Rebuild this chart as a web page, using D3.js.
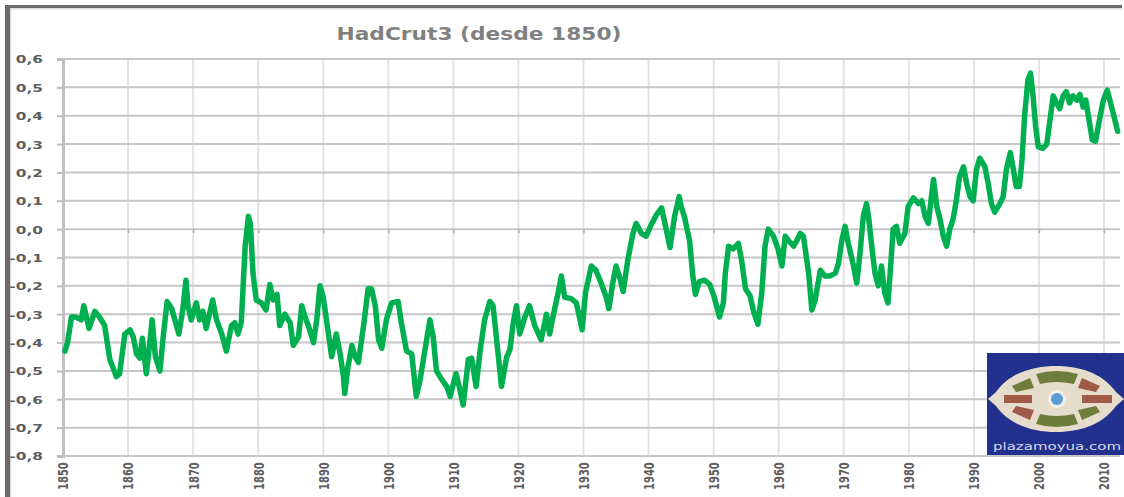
<!DOCTYPE html>
<html>
<head>
<meta charset="utf-8">
<script src="https://cdn.jsdelivr.net/npm/d3@7"></script>
<style>
  html, body { margin: 0; padding: 0; background: #ffffff; }
  svg { display: block; }
</style>
</head>
<body>
<script>
// ---- Data ----
const chartTitle = "HadCrut3 (desde 1850)";
const yTickValues = [-0.8, -0.7, -0.6, -0.5, -0.4, -0.3, -0.2, -0.1, 0.0, 0.1, 0.2, 0.3, 0.4, 0.5, 0.6];
const xTickYears = [1850, 1860, 1870, 1880, 1890, 1900, 1910, 1920, 1930, 1940, 1950, 1960, 1970, 1980, 1990, 2000, 2010];
const logoText = "plazamoyua.com";

const years = [
  1850.3, 1850.7, 1851.3, 1852.0, 1852.8, 1853.2, 1854.0, 1854.9, 1855.6, 1856.4,
  1857.2, 1858.2, 1858.7, 1859.5, 1860.3, 1860.8, 1861.3, 1861.8, 1862.2, 1862.8,
  1863.3, 1863.7, 1864.2, 1864.9, 1865.4, 1866.0, 1866.7, 1867.2, 1867.8, 1868.4,
  1868.9, 1869.2, 1869.7, 1870.5, 1871.0, 1871.5, 1872.0, 1873.0, 1873.6, 1874.4,
  1875.1, 1875.9, 1876.4, 1876.9, 1877.4, 1878.0, 1878.5, 1878.8, 1879.2, 1879.7,
  1880.5, 1881.2, 1881.8, 1882.3, 1882.9, 1883.3, 1884.1, 1884.9, 1885.4, 1886.2,
  1886.7, 1887.2, 1887.7, 1888.5, 1889.0, 1889.5, 1890.0, 1890.8, 1891.3, 1892.0,
  1892.6, 1893.1, 1893.3, 1893.8, 1894.4, 1894.9, 1895.4, 1896.2, 1896.9, 1897.4,
  1898.0, 1898.5, 1899.0, 1899.7, 1900.5, 1901.5, 1902.0, 1902.8, 1903.6, 1904.3,
  1904.9, 1905.6, 1906.4, 1906.9, 1907.4, 1908.2, 1909.0, 1909.5, 1910.4, 1910.9,
  1911.5, 1912.3, 1912.8, 1913.5, 1914.1, 1914.8, 1915.6, 1916.1, 1916.6, 1917.4,
  1918.2, 1918.7, 1919.2, 1919.7, 1920.2, 1921.0, 1921.7, 1922.5, 1923.5, 1924.3,
  1924.8, 1925.3, 1926.1, 1926.6, 1927.1, 1928.1, 1928.9, 1929.8, 1930.3, 1931.2,
  1931.9, 1932.7, 1933.5, 1933.9, 1934.5, 1935.0, 1935.5, 1936.1, 1936.8, 1937.6,
  1938.1, 1938.9, 1939.6, 1940.4, 1941.2, 1942.0, 1942.7, 1943.3, 1944.0, 1944.7,
  1945.0, 1945.5, 1946.3, 1946.8, 1947.2, 1947.8, 1948.6, 1949.4, 1950.1, 1950.9,
  1951.5, 1951.8, 1952.3, 1953.0, 1953.8, 1954.3, 1954.9, 1955.6, 1956.2, 1956.8,
  1957.4, 1957.9, 1958.4, 1959.2, 1959.9, 1960.5, 1961.0, 1961.5, 1962.3, 1962.8,
  1963.3, 1963.8, 1964.6, 1965.1, 1965.6, 1966.4, 1967.1, 1967.9, 1968.7, 1969.2,
  1969.7, 1970.2, 1970.7, 1971.5, 1972.0, 1972.5, 1973.0, 1973.5, 1973.8, 1974.3,
  1974.8, 1975.3, 1975.8, 1976.3, 1976.8, 1977.1, 1977.6, 1978.1, 1978.6, 1979.4,
  1979.9, 1980.7, 1981.5, 1982.0, 1982.5, 1983.0, 1983.4, 1983.8, 1984.3, 1984.8,
  1985.3, 1985.8, 1986.3, 1986.8, 1987.3, 1987.8, 1988.4, 1988.9, 1989.4, 1989.9,
  1990.4, 1990.9, 1991.7, 1992.2, 1992.7, 1993.2, 1994.0, 1994.5, 1995.0, 1995.6,
  1996.0, 1996.5, 1997.0, 1997.4, 1997.8, 1998.3, 1998.7, 1999.1, 1999.5, 1999.9,
  2000.6, 2001.2, 2001.7, 2002.2, 2002.7, 2003.2, 2003.7, 2004.2, 2004.7, 2005.2,
  2005.8, 2006.3, 2006.8, 2007.2, 2007.7, 2008.2, 2008.7, 2009.3, 2009.9, 2010.5,
  2010.9, 2011.4, 2012.1
];

const anomaly = [
  -0.43, -0.40, -0.31, -0.31, -0.32, -0.27, -0.35, -0.29, -0.31, -0.34,
  -0.46, -0.52, -0.51, -0.37, -0.355, -0.38, -0.44, -0.455, -0.385, -0.51,
  -0.41, -0.32, -0.45, -0.50, -0.38, -0.255, -0.28, -0.32, -0.37, -0.285,
  -0.18, -0.27, -0.32, -0.26, -0.32, -0.29, -0.35, -0.25, -0.32, -0.37,
  -0.43, -0.34, -0.33, -0.37, -0.33, -0.06, 0.045, 0.02, -0.155, -0.25,
  -0.26, -0.285, -0.195, -0.25, -0.23, -0.34, -0.30, -0.33, -0.41, -0.38,
  -0.27, -0.31, -0.34, -0.40, -0.32, -0.20, -0.24, -0.37, -0.45, -0.37,
  -0.44, -0.52, -0.58, -0.485, -0.41, -0.45, -0.47, -0.34, -0.21, -0.21,
  -0.27, -0.39, -0.42, -0.32, -0.26, -0.255, -0.33, -0.43, -0.44, -0.59,
  -0.53, -0.43, -0.32, -0.38, -0.50, -0.53, -0.555, -0.59, -0.51, -0.555,
  -0.62, -0.46, -0.455, -0.555, -0.43, -0.32, -0.255, -0.27, -0.38, -0.555,
  -0.45, -0.425, -0.33, -0.27, -0.37, -0.31, -0.27, -0.34, -0.39, -0.30,
  -0.37, -0.31, -0.225, -0.165, -0.24, -0.245, -0.26, -0.355, -0.225, -0.13,
  -0.145, -0.19, -0.24, -0.28, -0.19, -0.13, -0.165, -0.22, -0.11, -0.015,
  0.02, -0.015, -0.025, 0.015, 0.05, 0.075, 0.0, -0.065, 0.045, 0.115,
  0.08, 0.045, -0.04, -0.165, -0.23, -0.185, -0.18, -0.195, -0.24, -0.31,
  -0.26, -0.155, -0.06, -0.07, -0.05, -0.11, -0.21, -0.235, -0.295, -0.335,
  -0.225, -0.06, 0.0, -0.025, -0.07, -0.13, -0.025, -0.04, -0.06, -0.04,
  -0.015, -0.025, -0.155, -0.285, -0.25, -0.145, -0.165, -0.165, -0.155, -0.12,
  -0.04, 0.01, -0.05, -0.13, -0.19, -0.085, 0.045, 0.09, 0.045, -0.06,
  -0.155, -0.20, -0.13, -0.225, -0.26, -0.165, 0.0, 0.01, -0.05, -0.015,
  0.08, 0.11, 0.09, 0.10, 0.045, 0.02, 0.10, 0.175, 0.08, 0.035,
  -0.025, -0.06, 0.0, 0.035, 0.10, 0.185, 0.22, 0.16, 0.115, 0.10,
  0.21, 0.25, 0.22, 0.16, 0.09, 0.06, 0.09, 0.115, 0.21, 0.27,
  0.22, 0.15, 0.15, 0.245, 0.40, 0.525, 0.55, 0.47, 0.36, 0.29,
  0.285, 0.30, 0.385, 0.47, 0.445, 0.425, 0.47, 0.485, 0.445, 0.47,
  0.455, 0.475, 0.43, 0.455, 0.385, 0.315, 0.31, 0.385, 0.455, 0.49,
  0.455, 0.41, 0.345
];

// ---- Layout ----
const W = 1124, H = 497;
const plotLeft = 63, plotRight = 1120, plotTop = 59, plotBottom = 456;
const stretch = 1.4; // the reference is horizontally stretched

const svg = d3.select("body").append("svg")
  .attr("width", W).attr("height", H)
  .style("font-family", "'DejaVu Sans', Verdana, sans-serif");

svg.append("rect").attr("width", W).attr("height", H).attr("fill", "#ffffff");

const x = d3.scaleLinear().domain([1850, 2010]).range([63, 1104]);
const y = d3.scaleLinear().domain([-0.8, 0.6]).range([plotBottom, plotTop]);

// Frame
svg.append("line").attr("x1", 5).attr("x2", 1122).attr("y1", 6.5).attr("y2", 6.5)
  .attr("stroke", "#6f6a6a").attr("stroke-width", 3);
svg.append("line").attr("x1", 7.5).attr("x2", 7.5).attr("y1", 5).attr("y2", H)
  .attr("stroke", "#6f6a6a").attr("stroke-width", 5);
svg.append("line").attr("x1", 10).attr("x2", 1122).attr("y1", 8.8).attr("y2", 8.8)
  .attr("stroke", "#d6d6d6").attr("stroke-width", 1.2);
svg.append("line").attr("x1", 10.6).attr("x2", 10.6).attr("y1", 8).attr("y2", H)
  .attr("stroke", "#d6d6d6").attr("stroke-width", 1.2);

// Vertical gridlines
svg.append("g").selectAll("line").data(xTickYears.slice(1)).join("line")
  .attr("x1", d => x(d)).attr("x2", d => x(d))
  .attr("y1", plotTop).attr("y2", plotBottom)
  .attr("stroke", "#e3e3e3").attr("stroke-width", 2);

// Horizontal gridlines
svg.append("g").selectAll("line").data(yTickValues).join("line")
  .attr("x1", plotLeft).attr("x2", plotRight)
  .attr("y1", d => y(d)).attr("y2", d => y(d))
  .attr("stroke", "#c6c6c6").attr("stroke-width", 2);

// Y axis
const fmt = d => d3.format(".1f")(d).replace(".", ",").replace("−", "-");
const yAxis = svg.append("g").attr("transform", `translate(${plotLeft},0)`)
  .call(d3.axisLeft(y).tickValues(yTickValues).tickSize(6).tickFormat(fmt));
yAxis.select(".domain").attr("stroke", "#c0c0c0").attr("stroke-width", 3);
yAxis.selectAll(".tick line").attr("stroke", "#bdbdbd").attr("stroke-width", 2);
yAxis.selectAll(".tick text")
  .attr("x", 0).attr("dy", "0.36em")
  .attr("transform", `translate(-20,0) scale(${stretch},1)`)
  .attr("text-anchor", "end")
  .attr("fill", "#5e5e5e")
  .style("font-size", "11px").style("font-weight", "bold")
  .style("font-family", "'DejaVu Sans', Verdana, sans-serif");

// Category-axis ticks on the zero line
const zAxis = svg.append("g").attr("transform", `translate(0,${y(0)})`)
  .call(d3.axisBottom(x).tickValues(xTickYears.slice(1)).tickSize(4).tickFormat(""));
zAxis.select(".domain").remove();
zAxis.selectAll(".tick line").attr("stroke", "#b0b0b0").attr("stroke-width", 1.5);

// X axis labels (bottom, rotated)
const xAxis = svg.append("g").attr("transform", `translate(0,${plotBottom})`)
  .call(d3.axisBottom(x).tickValues(xTickYears).tickSize(0).tickFormat(d3.format("d")));
xAxis.select(".domain").attr("stroke", "#c6c6c6").attr("stroke-width", 2)
  .attr("d", `M${plotLeft},0H${plotRight}`);
xAxis.selectAll(".tick text")
  .attr("x", 0).attr("y", 0).attr("dy", "0.35em")
  .attr("transform", `translate(0,34) scale(${stretch},1) rotate(-90)`)
  .attr("text-anchor", "start")
  .attr("fill", "#5e5e5e")
  .style("font-size", "10px").style("font-weight", "bold")
  .style("font-family", "'DejaVu Sans', Verdana, sans-serif");

// Title
svg.append("text")
  .attr("x", 479).attr("y", 40)
  .attr("text-anchor", "middle")
  .attr("textLength", 285).attr("lengthAdjust", "spacingAndGlyphs")
  .attr("fill", "#808080")
  .style("font-size", "17px").style("font-weight", "bold")
  .text(chartTitle);

// Data line
const pts = years.map((yr, i) => [yr, anomaly[i]]);
svg.append("path")
  .datum(pts)
  .attr("fill", "none")
  .attr("stroke", "#00b050")
  .attr("stroke-width", 5.5)
  .attr("stroke-linejoin", "round")
  .attr("stroke-linecap", "round")
  .attr("d", d3.line().x(d => x(d[0])).y(d => y(d[1])));

// Logo (plazamoyua.com)
const logo = svg.append("g");
logo.append("rect").attr("x", 987).attr("y", 353).attr("width", 137).attr("height", 102)
  .attr("fill", "#22308e");
logo.append("path")
  .attr("d", "M988,399 L996,392 C1010,372 1035,366 1056,366 C1077,366 1102,372 1116,392 L1124,399 L1116,406 C1102,426 1077,432 1056,432 C1035,432 1010,426 996,406 Z")
  .attr("fill", "#e6dccb");
const patch = (d, c) => logo.append("path").attr("d", d).attr("fill", c);
patch("M1036,374 Q1056,368 1078,374 L1074,384 Q1056,380 1040,384 Z", "#6f7d3c");
patch("M1036,424 Q1056,430 1078,424 L1074,414 Q1056,418 1040,414 Z", "#6f7d3c");
patch("M1012,386 L1030,378 L1034,388 L1016,392 Z", "#6f7d3c");
patch("M1100,386 L1082,378 L1078,388 L1096,392 Z", "#a05a48");
patch("M1004,395 L1032,395 L1032,403 L1004,403 Z", "#a05a48");
patch("M1082,395 L1112,395 L1112,403 L1082,403 Z", "#a05a48");
patch("M1012,412 L1030,420 L1034,410 L1016,406 Z", "#a05a48");
patch("M1100,412 L1082,420 L1078,410 L1096,406 Z", "#6f7d3c");
logo.append("circle").attr("cx", 1057).attr("cy", 399).attr("r", 9).attr("fill", "#f2efe6");
logo.append("circle").attr("cx", 1057).attr("cy", 399).attr("r", 6).attr("fill", "#5b9bd5");
logo.append("text")
  .attr("x", 993).attr("y", 450)
  .attr("textLength", 128).attr("lengthAdjust", "spacingAndGlyphs")
  .attr("fill", "#d8d8e8")
  .style("font-size", "10px")
  .text(logoText);
</script>
</body>
</html>
